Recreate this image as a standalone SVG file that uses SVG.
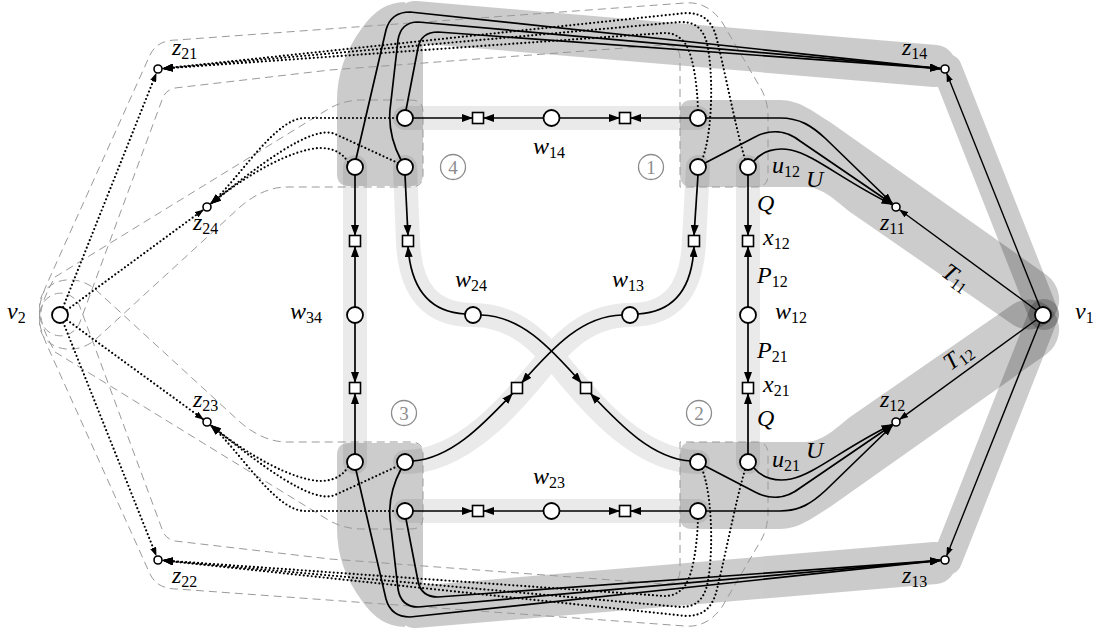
<svg xmlns="http://www.w3.org/2000/svg" width="1094" height="630" viewBox="0 0 1094 630">
<defs>
<style>
.e{fill:none;stroke:#000;stroke-width:1.7}
.f{fill:none;stroke:#000;stroke-width:1.4}
.d{fill:none;stroke:#000;stroke-width:2.2;stroke-dasharray:0 4;stroke-linecap:round}
.t{fill:none;stroke:#9a9a9a;stroke-width:1;stroke-dasharray:8 5}
.n{fill:#fff;stroke:#000;stroke-width:1.8}
.z{fill:#fff;stroke:#000;stroke-width:1.6}
.q{fill:#fff;stroke:#000;stroke-width:1.6}
.m{font-family:"Liberation Serif","DejaVu Serif",serif;font-style:italic;font-size:24px;fill:#000}
.s{font-style:normal;font-size:16px}
.c{fill:none;stroke:#8c8c8c;stroke-width:1.3}
.ct{font-family:"Liberation Serif","DejaVu Serif",serif;font-size:19px;fill:#8c8c8c;text-anchor:middle}
</style>
<marker id="ah" viewBox="0 0 11 8" refX="10.5" refY="4" markerWidth="11" markerHeight="8" markerUnits="userSpaceOnUse" orient="auto"><path d="M0,0 L11,4 L0,8 Z" fill="#000"/></marker>
<marker id="as" viewBox="0 0 9 6.5" refX="8.5" refY="3.25" markerWidth="9" markerHeight="6.5" markerUnits="userSpaceOnUse" orient="auto"><path d="M0,0 L9,3.25 L0,6.5 Z" fill="#000"/></marker>
</defs>
<rect width="1094" height="630" fill="#fff"/>

<g id="bands">
<g opacity="0.2" fill="#000" stroke="#000" stroke-linejoin="round" stroke-linecap="round">
<path stroke="none" d="M349,186 H411 Q423,186 423,174 V30 H405 V2 Q380,2 362,28 Q337,62 337,100 V174 Q337,186 349,186 Z"/>
<path fill="none" stroke-width="42" d="M415,22 L935,66"/>
<path fill="none" stroke-width="30" d="M947,69 L1044,315"/>
</g>
<g opacity="0.2" fill="#000" stroke="#000" stroke-linejoin="round" stroke-linecap="round">
<path stroke="none" d="M349,443 H411 Q423,443 423,455 V599 H405 V627 Q380,627 362,601 Q337,567 337,529 V455 Q337,443 349,443 Z"/>
<path fill="none" stroke-width="42" d="M415,607 L935,563"/>
<path fill="none" stroke-width="30" d="M947,560 L1044,314"/>
</g>
<g opacity="0.2" fill="#000">
<path d="M692,100 H780 C800,100 815,113 830,122 L1046.7,275.1 A30,30 0 0 1 1013.3,324.9 L850,212 C835,200 822,187 805,187 H692 Q680,187 680,175 V112 Q680,100 692,100 Z"/>
</g>
<g opacity="0.2" fill="#000">
<path d="M692,529 H780 C800,529 815,516 830,507 L1046.7,353.9 A30,30 0 0 0 1013.3,304.1 L850,417 C835,429 822,442 805,442 H692 Q680,442 680,454 V517 Q680,529 692,529 Z"/>
</g>
<g opacity="0.08" fill="none" stroke="#000" stroke-width="24" stroke-linecap="round" stroke-linejoin="round">
<path d="M405,118 H698"/>
<path d="M405,511 H698"/>
<path d="M355,167 V462"/>
<path d="M748,167 V462"/>
<path d="M405,167 L408,241 C410,292 432,315 473,315 C515,315 540,342 562,368 C592,404 640,462 698,462"/>
<path d="M698,167 L694,241 C692,292 670,315 630,315 C588,315 563,342 541,368 C511,404 463,462 405,462"/>
</g>
</g>

<g id="tubes">
<path class="t" d="M40,318 C38,305 42,296 46,286 L150,55 Q157,40 177,40 L685,3 Q707,1 722,22 L760,87 Q768,100 768,117 L768,175 Q768,187 756,187 L680,187 L680,58 Q680,45 665,45 L330,70 L175,88 Q165,90 162,100 L80,322 C72,342 45,340 40,318"/>
<path class="t" d="M40,311 C38,324 42,333 46,343 L150,574 Q157,589 177,589 L685,626 Q707,628 722,607 L760,542 Q768,529 768,512 L768,454 Q768,442 756,442 L680,442 L680,571 Q680,584 665,584 L330,559 L175,541 Q165,539 162,529 L80,307 C72,287 45,289 40,311"/>
<path class="t" d="M55,277 L330,108 Q345,100 362,100 L411,100 Q423,100 423,112 L423,175 Q423,187 411,187 L285,187 Q262,188 240,207 L95,340 C70,360 35,345 40,318 C42,300 48,290 55,277 Z"/>
<path class="t" d="M55,352 L330,521 Q345,529 362,529 L411,529 Q423,529 423,517 L423,454 Q423,442 411,442 L285,442 Q262,441 240,422 L95,289 C70,269 35,284 40,311 C42,329 48,339 55,352 Z"/>
</g>

<g id="connectors">
<path class="e" marker-end="url(#ah)" d="M356,159 L386,30 Q391,12 410,12 L940.5,68.6"/>
<path class="e" marker-end="url(#ah)" d="M401,160 Q388,135 390,110 L398,40 Q401,22 418,22 L940.5,68.6"/>
<path class="e" marker-end="url(#ah)" d="M406,110 L418,48 Q421,32 438,32 L940.5,68.6"/>
<path class="e" marker-end="url(#ah)" d="M356,470 L386,599 Q391,617 410,617 L940.5,560.4"/>
<path class="e" marker-end="url(#ah)" d="M401,469 Q388,494 390,519 L398,589 Q401,607 418,607 L940.5,560.4"/>
<path class="e" marker-end="url(#ah)" d="M406,519 L418,581 Q421,597 438,597 L940.5,560.4"/>
<path class="e" marker-end="url(#ah)" d="M706,118 L780,118 C800,118 812,126 826,139 L892.5,203.5"/>
<path class="e" marker-end="url(#ah)" d="M705,163 L755,137 C770,129 786,130 800,141 L892.3,204"/>
<path class="e" marker-end="url(#ah)" d="M754,161 C762,151 776,147 791,150 C815,155 845,182 892,204.5"/>
<path class="e" marker-end="url(#ah)" d="M706,511 L780,511 C800,511 812,503 826,490 L892.5,425.5"/>
<path class="e" marker-end="url(#ah)" d="M705,466 L755,492 C770,500 786,499 800,488 L892.3,425"/>
<path class="e" marker-end="url(#ah)" d="M754,468 C762,478 776,482 791,479 C815,474 845,447 892,424.5"/>
<path class="d" marker-end="url(#ah)" d="M698,110 C697,80 692,48 682,40 C677,35 672,33 664,33 L162.5,68.6"/>
<path class="d" marker-end="url(#ah)" d="M702,160 C714,130 713,62 706,40 C701,26 693,22 680,22 L162.5,68.6"/>
<path class="d" marker-end="url(#ah)" d="M745,159 C736,130 723,62 716,36 C711,19 701,13 686,13 L162.5,68.6"/>
<path class="d" marker-end="url(#ah)" d="M698,519 C697,549 692,581 682,589 C677,594 672,596 664,596 L162.5,560.4"/>
<path class="d" marker-end="url(#ah)" d="M702,469 C714,499 713,567 706,589 C701,603 693,607 680,607 L162.5,560.4"/>
<path class="d" marker-end="url(#ah)" d="M745,470 C736,499 723,567 716,593 C711,610 701,616 686,616 L162.5,560.4"/>
<path class="d" marker-end="url(#ah)" d="M397,118 L305,118 C275,118 240,178 210.5,204"/>
<path class="d" marker-end="url(#ah)" d="M398,163 L335,134 C312,124 258,166 210.5,204"/>
<path class="d" marker-end="url(#ah)" d="M348,162 C341,151 331,148 319,148 C292,150 250,172 210.5,204"/>
<path class="d" marker-end="url(#ah)" d="M397,511 L305,511 C275,511 240,451 210.5,425"/>
<path class="d" marker-end="url(#ah)" d="M398,466 L335,495 C312,505 258,463 210.5,425"/>
<path class="d" marker-end="url(#ah)" d="M348,467 C341,478 331,481 319,481 C292,479 250,457 210.5,425"/>
<path class="d" marker-end="url(#as)" d="M63.1,307.1 L156.3,73.2"/>
<path class="d" marker-end="url(#as)" d="M66.9,310 L203.4,209.7"/>
<path class="d" marker-end="url(#as)" d="M66.9,320 L203.4,419.4"/>
<path class="d" marker-end="url(#as)" d="M63.2,322.4 L156.3,555.8"/>
<path class="f" marker-end="url(#as)" d="M1039.9,307.1 L946.7,73.2"/>
<path class="f" marker-end="url(#as)" d="M1036.1,310 L899.6,209.7"/>
<path class="f" marker-end="url(#as)" d="M1036.1,320 L899.6,419.4"/>
<path class="f" marker-end="url(#as)" d="M1039.9,322.4 L946.7,555.8"/>
<path class="e" marker-end="url(#ah)" d="M413,118 L472.5,118"/>
<path class="e" marker-end="url(#ah)" d="M543,118 L483.5,118"/>
<path class="e" marker-end="url(#ah)" d="M560,118 L619.5,118"/>
<path class="e" marker-end="url(#ah)" d="M690,118 L630.5,118"/>
<path class="e" marker-end="url(#ah)" d="M413,511 L472.5,511"/>
<path class="e" marker-end="url(#ah)" d="M543,511 L483.5,511"/>
<path class="e" marker-end="url(#ah)" d="M560,511 L619.5,511"/>
<path class="e" marker-end="url(#ah)" d="M690,511 L630.5,511"/>
<path class="e" marker-end="url(#ah)" d="M355,175 L355,235.5"/>
<path class="e" marker-end="url(#ah)" d="M355,307 L355,246.5"/>
<path class="e" marker-end="url(#ah)" d="M355,323 L355,382.5"/>
<path class="e" marker-end="url(#ah)" d="M355,454 L355,393.5"/>
<path class="e" marker-end="url(#ah)" d="M748,175 L748,235.5"/>
<path class="e" marker-end="url(#ah)" d="M748,307 L748,246.5"/>
<path class="e" marker-end="url(#ah)" d="M748,323 L748,382.5"/>
<path class="e" marker-end="url(#ah)" d="M748,454 L748,393.5"/>
<path class="e" marker-end="url(#ah)" d="M405,175 L408,235.5"/>
<path class="e" marker-end="url(#ah)" d="M698,175 L694,235.5"/>
<path class="e" marker-end="url(#ah)" d="M465,314 C430,312 411,290 408,246.5"/>
<path class="e" marker-end="url(#ah)" d="M638,314 C673,312 692,290 694,246.5"/>
<path class="e" marker-end="url(#ah)" d="M481,315 C520,316 548,345 581.5,383"/>
<path class="e" marker-end="url(#ah)" d="M622,315 C583,316 555,345 521.5,383"/>
<path class="e" marker-end="url(#ah)" d="M413,461 C450,458 480,428 512.5,393.5"/>
<path class="e" marker-end="url(#ah)" d="M690,461 C653,458 623,428 590.5,393.5"/>
</g>

<g id="nodes">
<g id="v1"><circle class="n" cx="1043" cy="315" r="8"/><text class="m" x="1075" y="319">v<tspan class="s" dy="3.5">1</tspan></text></g>
<g id="v2"><circle class="n" cx="60" cy="315" r="8"/><text class="m" x="7" y="319">v<tspan class="s" dy="3.5">2</tspan></text></g>
<g id="w34"><circle class="n" cx="355" cy="315" r="8"/><text class="m" x="290" y="319">w<tspan class="s" dy="3.5">34</tspan></text></g>
<g id="w12"><circle class="n" cx="748" cy="315" r="8"/><text class="m" x="775" y="319">w<tspan class="s" dy="3.5">12</tspan></text></g>
<g id="w14"><circle class="n" cx="551.5" cy="118" r="8"/><text class="m" x="533" y="154">w<tspan class="s" dy="3.5">14</tspan></text></g>
<g id="w23"><circle class="n" cx="551.5" cy="511" r="8"/><text class="m" x="533" y="484">w<tspan class="s" dy="3.5">23</tspan></text></g>
<g id="w24"><circle class="n" cx="473" cy="315" r="8"/><text class="m" x="455" y="287">w<tspan class="s" dy="3.5">24</tspan></text></g>
<g id="w13"><circle class="n" cx="630" cy="315" r="8"/><text class="m" x="612" y="287">w<tspan class="s" dy="3.5">13</tspan></text></g>
<g id="c4a"><circle class="n" cx="405" cy="118" r="8"/></g>
<g id="c4b"><circle class="n" cx="355" cy="167" r="8"/></g>
<g id="c4c"><circle class="n" cx="405" cy="167" r="8"/></g>
<g id="c1a"><circle class="n" cx="698" cy="118" r="8"/></g>
<g id="c1b"><circle class="n" cx="698" cy="167" r="8"/></g>
<g id="u12"><circle class="n" cx="748" cy="167" r="8"/><text class="m" x="772" y="173">u<tspan class="s" dy="3.5">12</tspan></text></g>
<g id="c3a"><circle class="n" cx="355" cy="462" r="8"/></g>
<g id="c3b"><circle class="n" cx="405" cy="462" r="8"/></g>
<g id="c3c"><circle class="n" cx="405" cy="511" r="8"/></g>
<g id="c2a"><circle class="n" cx="698" cy="462" r="8"/></g>
<g id="u21"><circle class="n" cx="748" cy="462" r="8"/><text class="m" x="772" y="467">u<tspan class="s" dy="3.5">21</tspan></text></g>
<g id="c2c"><circle class="n" cx="698" cy="511" r="8"/></g>
<g id="sq_t1"><rect class="q" x="472.5" y="112.5" width="11" height="11"/></g>
<g id="sq_t2"><rect class="q" x="619.5" y="112.5" width="11" height="11"/></g>
<g id="sq_b1"><rect class="q" x="472.5" y="505.5" width="11" height="11"/></g>
<g id="sq_b2"><rect class="q" x="619.5" y="505.5" width="11" height="11"/></g>
<g id="sq_l1"><rect class="q" x="349.5" y="235.5" width="11" height="11"/></g>
<g id="sq_l2"><rect class="q" x="349.5" y="382.5" width="11" height="11"/></g>
<g id="sq_i1"><rect class="q" x="402.5" y="235.5" width="11" height="11"/></g>
<g id="sq_i2"><rect class="q" x="688.5" y="235.5" width="11" height="11"/></g>
<g id="x12"><rect class="q" x="742.5" y="235.5" width="11" height="11"/><text class="m" x="763" y="245">x<tspan class="s" dy="3.5">12</tspan></text></g>
<g id="x21"><rect class="q" x="742.5" y="382.5" width="11" height="11"/><text class="m" x="763" y="392">x<tspan class="s" dy="3.5">21</tspan></text></g>
<g id="sq_c1"><rect class="q" x="511.5" y="382.5" width="11" height="11"/></g>
<g id="sq_c2"><rect class="q" x="580.5" y="382.5" width="11" height="11"/></g>
<g id="z21"><circle class="z" cx="158" cy="69" r="4"/><text class="m" x="172" y="55">z<tspan class="s" dy="3.5">21</tspan></text></g>
<g id="z14"><circle class="z" cx="945" cy="69" r="4"/><text class="m" x="902" y="55">z<tspan class="s" dy="3.5">14</tspan></text></g>
<g id="z24"><circle class="z" cx="207" cy="207" r="4"/><text class="m" x="193" y="230">z<tspan class="s" dy="3.5">24</tspan></text></g>
<g id="z11"><circle class="z" cx="896" cy="207" r="4"/><text class="m" x="880" y="230">z<tspan class="s" dy="3.5">11</tspan></text></g>
<g id="z23"><circle class="z" cx="207" cy="422" r="4"/><text class="m" x="193" y="407">z<tspan class="s" dy="3.5">23</tspan></text></g>
<g id="z12"><circle class="z" cx="896" cy="422" r="4"/><text class="m" x="880" y="407">z<tspan class="s" dy="3.5">12</tspan></text></g>
<g id="z22"><circle class="z" cx="158" cy="560" r="4"/><text class="m" x="172" y="583">z<tspan class="s" dy="3.5">22</tspan></text></g>
<g id="z13"><circle class="z" cx="945" cy="560" r="4"/><text class="m" x="902" y="583">z<tspan class="s" dy="3.5">13</tspan></text></g>
</g>

<g id="labels">
<text class="m" x="806" y="187">U</text>
<text class="m" x="806" y="458">U</text>
<text class="m" x="757" y="211">Q</text>
<text class="m" x="757" y="426">Q</text>
<text class="m" x="757" y="283">P<tspan class="s" dy="3.5">12</tspan></text>
<text class="m" x="757" y="358">P<tspan class="s" dy="3.5">21</tspan></text>
<text class="m" transform="translate(955,277) rotate(36)" x="-13" y="7">T<tspan class="s" dy="3.5">11</tspan></text>
<text class="m" transform="translate(957,358) rotate(-36)" x="-13" y="7">T<tspan class="s" dy="3.5">12</tspan></text>
</g>

<g id="regions">
<circle class="c" cx="651" cy="167" r="12.5"/><text class="ct" x="651" y="174">1</text>
<circle class="c" cx="453" cy="167" r="12.5"/><text class="ct" x="453" y="174">4</text>
<circle class="c" cx="404" cy="413" r="12.5"/><text class="ct" x="404" y="420">3</text>
<circle class="c" cx="699" cy="413" r="12.5"/><text class="ct" x="699" y="420">2</text>
</g>
</svg>
